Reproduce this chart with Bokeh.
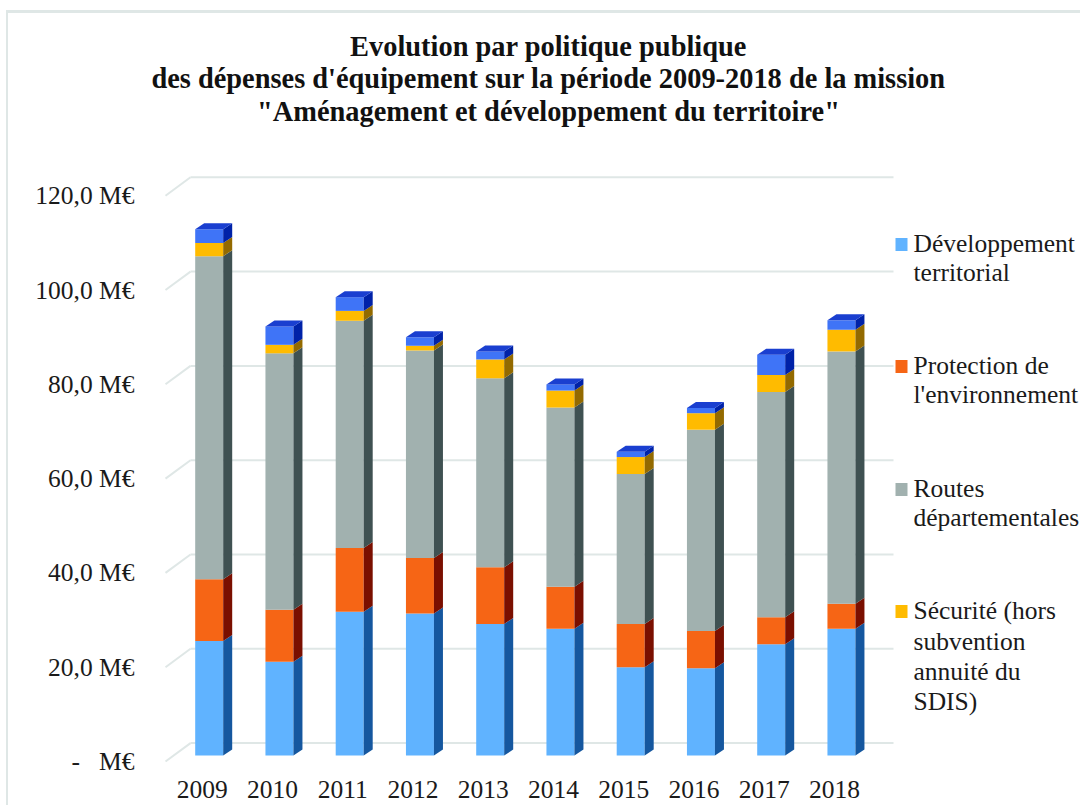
from bokeh.embed import file_html
from bokeh.resources import INLINE
from bokeh.plotting import figure
from bokeh.models import Range1d, LinearAxis, FixedTicker, Label, BoxAnnotation
import numpy as np

# ---- data (M€)
years = [2009, 2010, 2011, 2012, 2013, 2014, 2015, 2016, 2017, 2018]
developpement = [24.3, 19.9, 30.5, 30.1, 27.9, 26.9, 18.7, 18.5, 23.6, 26.9]
protection = [13.1, 11.0, 13.5, 11.8, 12.0, 8.9, 9.2, 7.9, 5.7, 5.3]
routes = [68.5, 54.4, 48.2, 44.0, 40.1, 38.0, 31.8, 42.7, 47.8, 53.5]
securite = [2.8, 1.8, 2.1, 1.0, 4.0, 3.6, 3.6, 3.5, 3.6, 4.6]
autres = [2.9, 3.9, 2.9, 1.8, 1.7, 1.3, 1.1, 1.1, 4.3, 2.0]
y_ticks = [0, 20, 40, 60, 80, 100, 120]
y_tick_labels = ["-\u00a0\u00a0\u00a0M€", "20,0 M€", "40,0 M€", "60,0 M€", "80,0 M€", "100,0 M€", "120,0 M€"]
title_lines = ["Evolution par politique publique",
               "des dépenses d'équipement sur la période 2009-2018 de la mission",
               "\"Aménagement et développement du territoire\""]
legend_groups = [["Développement", "territorial"],
                 ["Protection de", "l'environnement"],
                 ["Routes", "départementales"],
                 ["Sécurité (hors", "subvention", "annuité du", "SDIS)"]]

# ---- styles
front = ["#60B3FF", "#F66515", "#A1B1AF", "#FFBB00", "#3F74F7"]
side = ["#15579F", "#7A0F00", "#3F5152", "#936A00", "#0022A8"]
top_face = "#1A3FD0"
grid_col = "#DFE7E6"
FONT = "Liberation Serif"
TEXT = "#1a1a1a"

# ---- layout (page pixels)
W, H = 1080, 805
F_L, F_R, F_T, F_B = 145, 1080, 0, 762
PXY = 4.715       # pixels per M€
PXX = 70.25       # pixels per category
AX0_X, AX0_Y = 201.7, 761   # position of the axis origin
BAR0_X, BAR0_Y = 208.7, 755  # origin of bar fronts
WALL0_Y = 742.6              # origin of the back wall
BAR_W = 28 / PXX
DX, DY = 9 / PXX, 6 / PXY

def xr(x0): return Range1d((F_L - x0) / PXX, (F_R - x0) / PXX)
def yr(y0): return Range1d((y0 - F_B) / PXY, (y0 - F_T) / PXY)
def dx(px): return (px - AX0_X) / PXX
def dy(py): return (AX0_Y - py) / PXY

p = figure(width=W, height=H, output_backend="svg", toolbar_location=None,
           x_range=xr(AX0_X), y_range=yr(AX0_Y),
           min_border_left=F_L, min_border_right=0,
           min_border_top=F_T, min_border_bottom=H - F_B,
           x_axis_type=None, y_axis_type=None)
p.outline_line_color = None
p.grid.visible = False
p.background_fill_color = None
p.border_fill_color = None
# outer chart frame: left and top rules
p.styles = {"background": "linear-gradient(#DFE7E6,#DFE7E6) 6px 10px/2px 100% no-repeat, "
                          "linear-gradient(#DFE7E6,#DFE7E6) 6px 10px/100% 3px no-repeat"}
p.extra_x_ranges = {"bars": xr(BAR0_X)}
p.extra_y_ranges = {"bars": yr(BAR0_Y), "wall": yr(WALL0_Y)}

# axes
ax_y = LinearAxis(ticker=FixedTicker(ticks=y_ticks),
                  major_label_overrides=dict(zip(y_ticks, y_tick_labels)))
ax_x = LinearAxis(ticker=FixedTicker(ticks=list(range(len(years)))),
                  major_label_overrides={i: str(y) for i, y in enumerate(years)})
for a, standoff in ((ax_y, 5), (ax_x, 12)):
    a.axis_line_color = None
    a.major_tick_line_color = None
    a.minor_tick_line_color = None
    a.major_label_text_font = FONT
    a.major_label_text_font_size = "25.5px"
    a.major_label_text_color = TEXT
    a.major_label_standoff = standoff
p.add_layout(ax_y, "left")
p.add_layout(ax_x, "below")

# walls
back_x = dx(190); front_x = dx(165); right_x = dx(893)
drop = 18.4 / PXY
p.segment(x0=[back_x] * len(y_ticks), x1=[right_x] * len(y_ticks), y0=y_ticks, y1=y_ticks,
          y_range_name="wall", line_color=grid_col, line_width=2)
p.segment(x0=[back_x] * len(y_ticks), x1=[front_x] * len(y_ticks), y0=y_ticks,
          y1=[t - drop for t in y_ticks], y_range_name="wall", line_color=grid_col, line_width=2)

# bars
series = [developpement, protection, routes, securite, autres]
idx = np.arange(len(years))
base = np.zeros(len(years))
for k, s in enumerate(series):
    topv = base + np.array(s)
    p.vbar(x=idx, width=BAR_W, bottom=base, top=topv, fill_color=front[k], line_color=None,
           x_range_name="bars", y_range_name="bars")
    r = idx + BAR_W / 2
    xs = [[a, a + DX, a + DX, a] for a in r]
    ys = [[b, b + DY, t + DY, t] for b, t in zip(base, topv)]
    p.patches(xs, ys, fill_color=side[k], line_color=None, x_range_name="bars", y_range_name="bars")
    base = topv
l = idx - BAR_W / 2
r = idx + BAR_W / 2
p.patches([[a, a + DX, b + DX, b] for a, b in zip(l, r)],
          [[t, t + DY, t + DY, t] for t in base],
          fill_color=top_face, line_color=None, x_range_name="bars", y_range_name="bars")

# title
for line, py in zip(title_lines, [46, 78, 111]):
    p.add_layout(Label(x=dx(548), y=dy(py), text=line, text_font=FONT, text_font_size="28.4px",
                       text_font_style="bold", text_color="#111111", text_align="center",
                       text_baseline="middle"))

# legend
leg_y = [[244, 273], [366, 395], [489, 518], [611, 642, 672, 702]]
for k, (lines, ys) in enumerate(zip(legend_groups, leg_y)):
    p.add_layout(BoxAnnotation(left=dx(895), right=dx(907), top=dy(ys[0] - 6.5), bottom=dy(ys[0] + 6.5),
                               fill_color=front[k], fill_alpha=1, line_color=None))
    for line, py in zip(lines, ys):
        p.add_layout(Label(x=dx(913), y=dy(py - 1), text=line, text_font=FONT, text_font_size="25.5px",
                           text_color=TEXT, text_align="left", text_baseline="middle"))

open("out.html", "w").write(file_html(p, INLINE))
